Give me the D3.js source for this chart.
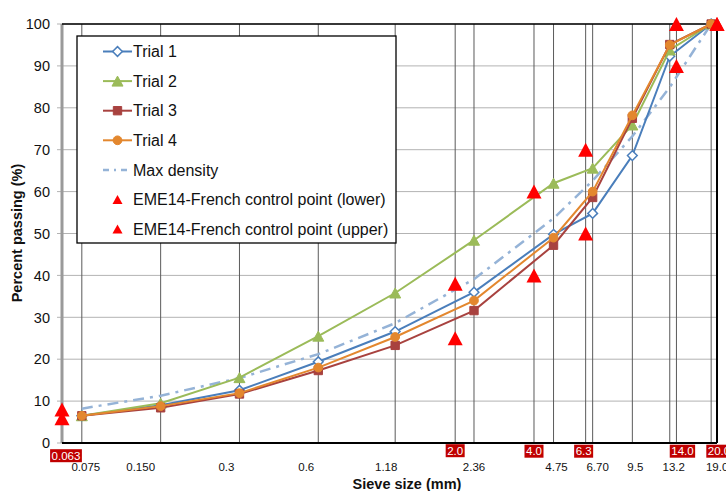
<!DOCTYPE html>
<html>
<head>
<meta charset="utf-8">
<script src="https://cdn.jsdelivr.net/npm/d3@7"></script>
<style>
  html, body { margin: 0; padding: 0; background: #fff; }
  svg { display: block; font-family: "Liberation Sans", Arial, sans-serif; }
</style>
</head>
<body>
<svg id="chart" width="726" height="491"></svg>
<script>
// Sieve sizes (mm) used for the trial gradations
const sieves = [0.075, 0.15, 0.3, 0.6, 1.18, 2.36, 4.75, 6.7, 9.5, 13.2, 19.0];
const sieveLabels = ["0.075", "0.150", "0.3", "0.6", "1.18", "2.36", "4.75", "6.70", "9.5", "13.2", "19.0"];
// Percent passing for each trial
const trial1 = [6.5, 9.0, 12.6, 19.4, 26.6, 36.0, 49.8, 54.8, 68.6, 92.3, 100];
const trial2 = [6.5, 9.5, 15.6, 25.5, 35.8, 48.4, 62.0, 65.6, 75.9, 93.8, 100];
const trial3 = [6.5, 8.4, 11.7, 17.3, 23.3, 31.6, 47.2, 58.6, 77.5, 95.1, 100];
const trial4 = [6.5, 8.8, 11.9, 18.0, 25.3, 34.0, 49.0, 60.0, 78.2, 95.0, 100];
const maxDensity = [8.2, 11.3, 15.5, 21.2, 28.6, 39.1, 53.6, 62.6, 73.2, 84.9, 100];
// EME14 French control points
const controlSieves = [0.063, 2.0, 4.0, 6.3, 14.0, 20.0];
const controlLabels = ["0.063", "2.0", "4.0", "6.3", "14.0", "20.0"];
const controlLower = [5.9, 25, 40, 50, 90, 100];
const controlUpper = [8.0, 38, 60, 70, 100, 100];
const yTicks = [0, 10, 20, 30, 40, 50, 60, 70, 80, 90, 100];
const seriesNames = ["Trial 1", "Trial 2", "Trial 3", "Trial 4", "Max density",
  "EME14-French control point (lower)", "EME14-French control point (upper)"];

const svg = d3.select("#chart");
const x = d3.scaleLog().domain([0.063, 20]).range([62, 717]);
const y = d3.scaleLinear().domain([0, 100]).range([443, 24]);

// horizontal gridlines and tick marks
const gy = svg.append("g");
gy.selectAll("line").data(yTicks).join("line")
  .attr("x1", 57).attr("x2", 717)
  .attr("y1", d => y(d)).attr("y2", d => y(d))
  .attr("stroke", "#b3b3b3").attr("stroke-width", 1);
gy.selectAll("text").data(yTicks).join("text")
  .attr("x", 50).attr("y", d => y(d)).attr("dy", "0.36em")
  .attr("text-anchor", "end").attr("font-size", 14.5).attr("fill", "#111")
  .text(d => d);

// vertical gridlines at every sieve and control sieve
const vlines = sieves.concat(controlSieves.slice(1, 5));
svg.append("g").selectAll("line").data(vlines).join("line")
  .attr("x1", d => x(d)).attr("x2", d => x(d))
  .attr("y1", y(100)).attr("y2", y(0))
  .attr("stroke", "#5a5a5a").attr("stroke-width", 1);

// frame
svg.append("line").attr("x1", x(0.063)).attr("x2", x(0.063)).attr("y1", y(100)).attr("y2", y(0))
  .attr("stroke", "#9a9a9a").attr("stroke-width", 3);
svg.append("line").attr("x1", x(0.063)).attr("x2", x(20)).attr("y1", y(0)).attr("y2", y(0))
  .attr("stroke", "#000").attr("stroke-width", 2);
svg.append("line").attr("x1", x(0.063)).attr("x2", x(20)).attr("y1", y(100)).attr("y2", y(100))
  .attr("stroke", "#000").attr("stroke-width", 1.5);
svg.append("line").attr("x1", x(20)).attr("x2", x(20)).attr("y1", y(100)).attr("y2", y(0))
  .attr("stroke", "#000").attr("stroke-width", 2);

// sieve labels under the axis
svg.append("g").selectAll("text").data(sieves).join("text")
  .attr("x", (d, i) => x(d) + [4, -20, -13, -12, -9, 0, 3, 5, 3, 4, 6][i])
  .attr("y", 471).attr("text-anchor", "middle")
  .attr("font-size", 11.5).attr("fill", "#111")
  .text((d, i) => sieveLabels[i]);

// control sieve labels in red boxes
const cl = svg.append("g");
controlSieves.forEach((d, i) => {
  const g = cl.append("g");
  const dx = [4, 0, 0, -2, 6, 2][i];
  const dyy = [7.5, 2.5, 3, 3, 3, 3][i];
  const t = g.append("text")
    .attr("x", x(d) + dx).attr("y", y(0) + dyy).attr("dy", "0.8em")
    .attr("text-anchor", "middle").attr("font-size", 11.5).attr("fill", "#fff")
    .text(controlLabels[i]);
  const b = t.node().getBBox();
  g.insert("rect", "text")
    .attr("x", b.x - 1.5).attr("y", b.y - 0.5)
    .attr("width", b.width + 3).attr("height", b.height + 1)
    .attr("fill", "#c00000");
});

// axis titles
svg.append("text").attr("x", 407).attr("y", 489).attr("text-anchor", "middle")
  .attr("font-size", 14.5).attr("font-weight", "bold").attr("fill", "#111")
  .text("Sieve size (mm)");
svg.append("text").attr("transform", "translate(22,233) rotate(-90)")
  .attr("text-anchor", "middle").attr("font-size", 14.5).attr("font-weight", "bold").attr("fill", "#111")
  .text("Percent passing (%)");

// marker shapes
function triPath(w, h) {
  return `M0,${-h / 2}L${w / 2},${h / 2}L${-w / 2},${h / 2}Z`;
}
const symbols = {
  diamond: d3.symbol(d3.symbolDiamond2, 60)(),
  triangle: triPath(11, 10),
  square: d3.symbol(d3.symbolSquare, 70)(),
  circle: d3.symbol(d3.symbolCircle, 60)()
};

const series = [
  { name: seriesNames[0], values: trial1, color: "#4a7ebb", fill: "#fff", sym: "diamond" },
  { name: seriesNames[1], values: trial2, color: "#9bbb59", fill: "#9bbb59", sym: "triangle" },
  { name: seriesNames[2], values: trial3, color: "#a8423f", fill: "#a8423f", sym: "square" },
  { name: seriesNames[3], values: trial4, color: "#e3872e", fill: "#e3872e", sym: "circle" }
];

const line = d3.line().x(d => x(d[0])).y(d => y(d[1]));

// max density line (dash-dot)
svg.append("path")
  .attr("d", line(sieves.map((s, i) => [s, maxDensity[i]])))
  .attr("fill", "none").attr("stroke", "#95b3d7").attr("stroke-width", 2.5)
  .attr("stroke-dasharray", "11,6,3,6");

series.forEach(s => {
  const pts = sieves.map((v, i) => [v, s.values[i]]);
  svg.append("path").attr("d", line(pts))
    .attr("fill", "none").attr("stroke", s.color).attr("stroke-width", 2);
  svg.append("g").selectAll("path").data(pts).join("path")
    .attr("d", symbols[s.sym])
    .attr("transform", d => `translate(${x(d[0])},${y(d[1])})`)
    .attr("fill", s.fill).attr("stroke", s.color).attr("stroke-width", s.sym === "diamond" ? 1.5 : 1);
});

// control points
const cp = controlSieves.map((s, i) => [s, controlLower[i]])
  .concat(controlSieves.map((s, i) => [s, controlUpper[i]]));
svg.append("g").selectAll("path").data(cp).join("path")
  .attr("d", triPath(15, 14))
  .attr("transform", d => `translate(${x(d[0])},${y(d[1])})`)
  .attr("fill", "#ff0000");

// legend
const lg = svg.append("g");
lg.append("rect").attr("x", 77).attr("y", 36).attr("width", 319).attr("height", 207)
  .attr("fill", "#fff").attr("stroke", "#000").attr("stroke-width", 1.3);
const rowY = i => 51.5 + i * 29.6;
series.forEach((s, i) => {
  lg.append("line").attr("x1", 103).attr("x2", 132).attr("y1", rowY(i)).attr("y2", rowY(i))
    .attr("stroke", s.color).attr("stroke-width", 2);
  lg.append("path").attr("d", symbols[s.sym])
    .attr("transform", `translate(117.5,${rowY(i)})`)
    .attr("fill", s.fill).attr("stroke", s.color).attr("stroke-width", s.sym === "diamond" ? 1.5 : 1);
});
lg.append("line").attr("x1", 103).attr("x2", 132).attr("y1", rowY(4)).attr("y2", rowY(4))
  .attr("stroke", "#95b3d7").attr("stroke-width", 2.5).attr("stroke-dasharray", "6,5,2,5");
[5, 6].forEach(i => {
  lg.append("path").attr("d", triPath(10, 9))
    .attr("transform", `translate(117.5,${rowY(i)})`).attr("fill", "#ff0000");
});
seriesNames.forEach((n, i) => {
  lg.append("text").attr("x", 133).attr("y", rowY(i)).attr("dy", "0.36em")
    .attr("font-size", 16).attr("fill", "#111").text(n);
});
</script>
</body>
</html>
